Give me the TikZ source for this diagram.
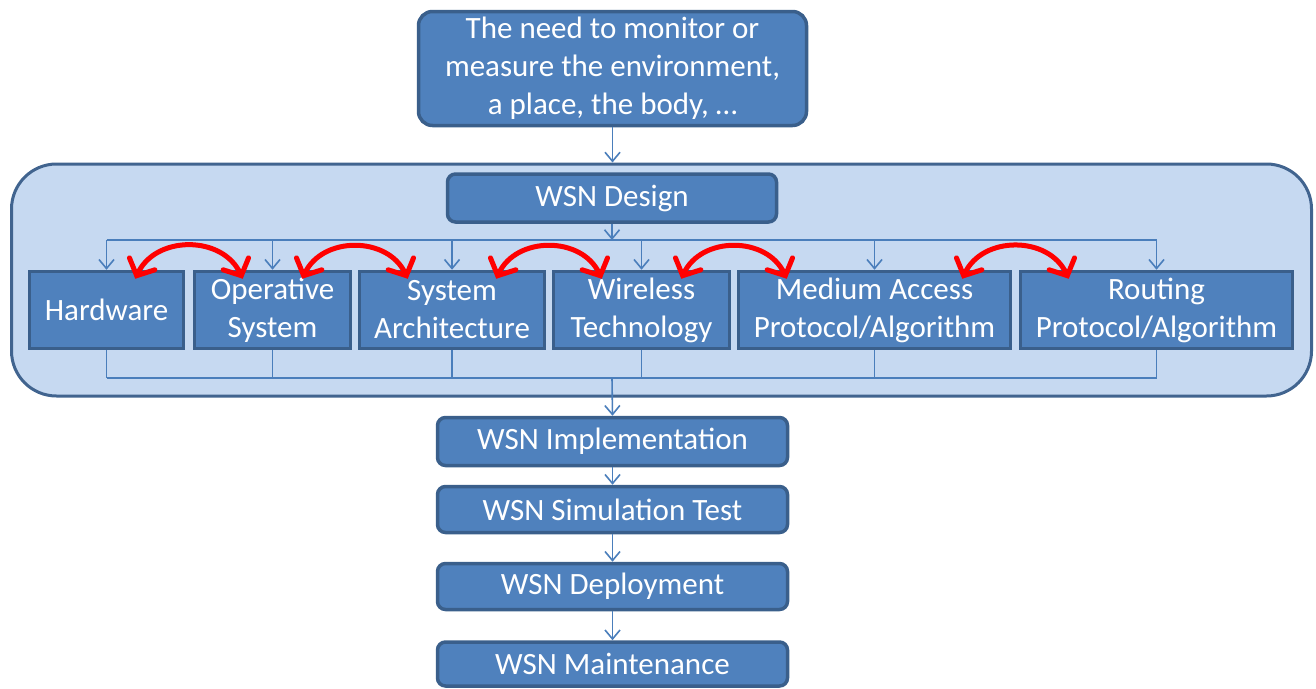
\documentclass[tikz,border=0pt]{standalone}
\usepackage{fontspec}
\setmainfont{Carlito}
\usetikzlibrary{arrows.meta,calc}
\definecolor{boxfill}{HTML}{4F81BD}
\definecolor{boxline}{HTML}{3A5F8B}
\definecolor{contfill}{HTML}{C6D9F1}
\definecolor{contline}{HTML}{41648F}
\definecolor{conn}{HTML}{4A7EBB}
\begin{document}
\begin{tikzpicture}[x=1pt,y=-1pt,
  box/.style={draw=boxline, fill=boxfill, line width=3.5pt, text=white, align=center,
    inner sep=0pt, font=\fontsize{31}{38}\selectfont},
  rbox/.style={box, rounded corners=8pt},
  sbox/.style={box, minimum height=77pt},
  container/.style={draw=contline, fill=contfill, line width=3pt, rounded corners=45pt, inner sep=0pt},
  link/.style={draw=conn, line width=1.6pt},
  flow/.style={link, -{Straight Barb[length=9pt,width=15pt]}},
  rel/.style={draw=red, line width=5pt, line cap=round,
    {Straight Barb[length=13pt,width=28pt,line cap=round]}-{Straight Barb[length=13pt,width=28pt,line cap=round]}},
]
\useasboundingbox (0,0) rectangle (1316,688);

% container
\node[container, minimum width=1300pt, minimum height=232pt] (cont) at (661.5,280) {};

% top box
\node[rbox, rounded corners=14pt, minimum width=388pt, minimum height=114pt] (need) at (612.5,68.5)
  {The need to monitor or\\measure the environment,\\a place, the body, \dots};

% design
\node[rbox, minimum width=329pt, minimum height=48pt] (design) at (612,198) {\raisebox{-2pt}{WSN Design}};

% component boxes
\node[sbox, minimum width=154pt] (hw) at (106.5,310) {Hardware};
\node[sbox, minimum width=156pt] (os) at (272.5,310) {Operative\\System};
\node[sbox, minimum width=185pt] (sa) at (452,310) {System\\Architecture};
\node[sbox, minimum width=176pt] (wt) at (641.5,310) {Wireless\\Technology};
\node[sbox, minimum width=272pt] (ma) at (874.5,310) {Medium Access\\Protocol/Algorithm};
\node[sbox, minimum width=272pt] (rp) at (1156.5,310) {Routing\\Protocol/Algorithm};

% lower flow
\node[rbox, minimum width=350pt, minimum height=48pt] (impl) at (612.5,441.5) {\raisebox{-1pt}{WSN Implementation}};
\node[rbox, minimum width=350pt, minimum height=46pt] (sim) at (612.5,509.5) {WSN Simulation Test};
\node[rbox, minimum width=350pt, minimum height=46pt] (dep) at (612.5,586.5) {WSN Deployment};
\node[rbox, minimum width=350pt, minimum height=44pt] (mnt) at (612.5,664) {WSN Maintenance};

% buses
\coordinate (busT) at (612,240);
\coordinate (busB) at (612,378);

\draw[flow] (need.south) -- (need.south |- cont.north);
\draw[flow] (design.south) -- (design.south |- busT);
\draw[link] (hw.north |- busT) -- (rp.north |- busT);
\foreach \n in {hw,os,sa,wt,ma,rp}{
  \draw[flow] (\n.north |- busT) -- (\n.north);
  \draw[link] (\n.south) -- (\n.south |- busB);
}
\draw[link] (hw.south |- busB) -- (rp.south |- busB);
\draw[flow] (busB) -- (impl.north);
\draw[flow] (impl.south) -- (sim.north);
\draw[flow] (sim.south) -- (dep.north);
\draw[flow] (dep.south) -- (mnt.north);

% red relations
\foreach \a/\b in {hw/os, os/sa, sa/wt, wt/ma, ma/rp}{
  \draw[rel] ([xshift=-50pt,yshift=-9pt]\a.north east) to[out=65,in=115,looseness=1.15]
             ([xshift=50pt,yshift=-9pt]\b.north west);
}
\end{tikzpicture}
\end{document}
